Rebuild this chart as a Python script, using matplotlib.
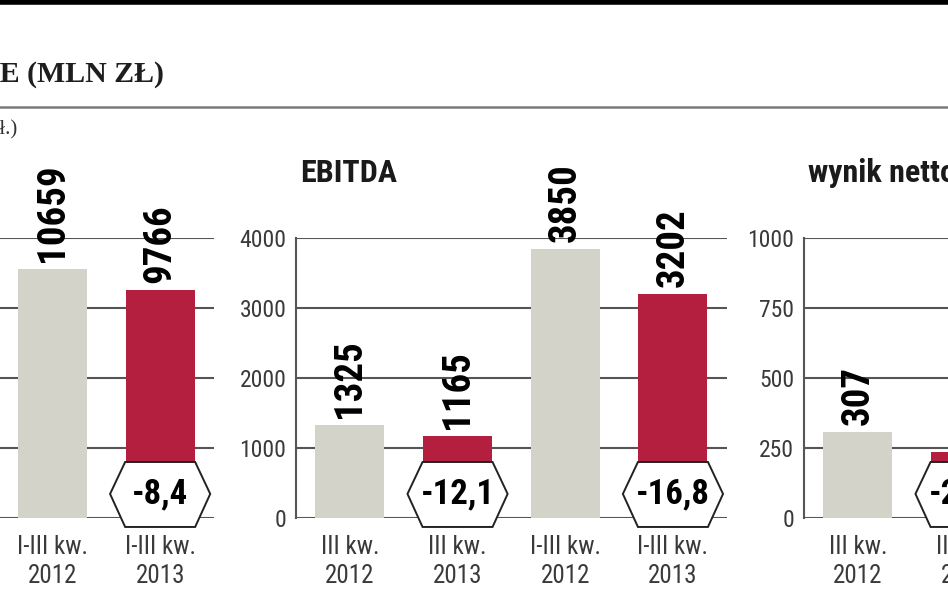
import matplotlib
matplotlib.use("Agg")
import matplotlib.pyplot as plt
from matplotlib import font_manager as fm
from matplotlib.patches import Polygon
from matplotlib.transforms import blended_transform_factory, offset_copy

# --- dane ---
cats_sales = ["I-III kw.\n2012", "I-III kw.\n2013"]
sales = [10659, 9766]
sales_change = [None, "-8,4"]

cats_ebitda = ["III kw.\n2012", "III kw.\n2013", "I-III kw.\n2012", "I-III kw.\n2013"]
ebitda = [1325, 1165, 3850, 3202]
ebitda_change = [None, "-12,1", None, "-16,8"]

cats_net = ["III kw.\n2012", "III kw.\n2013"]
net = [307, 236]
net_change = [None, "-23,1"]

GREY = "#d3d3ca"
RED = "#b41f3f"
GRID = "#555555"
TXT = "#3a3a3a"

# wybór fontu wąskiego, jeśli jest
names = {f.name for f in fm.fontManager.ttflist}
cond_stretch = "normal"
if "Liberation Sans Narrow" in names:
    COND = "Liberation Sans Narrow"
elif "Roboto Condensed" in names:
    COND = "Roboto Condensed"
else:
    COND = "DejaVu Sans"
    if any(f.name == "DejaVu Sans" and f.stretch == "condensed" for f in fm.fontManager.ttflist):
        cond_stretch = "condensed"

W, H = 948, 593
fig = plt.figure(figsize=(W / 100, H / 100), dpi=100)

# linie ozdobne u góry
fig.add_artist(plt.Line2D([0, 1], [1 - 2 / H, 1 - 2 / H], color="black", lw=4, transform=fig.transFigure))
fig.add_artist(plt.Line2D([0, 1], [1 - 107 / H, 1 - 107 / H], color="#7a7a7a", lw=1.8, transform=fig.transFigure))

fig.text(164 / W, 1 - 74 / H, "WYNIKI FINANSOWE (MLN ZŁ)", ha="right", va="center",
         family="Liberation Serif", fontweight="bold", fontsize=21.5, color="#1e1e1e")
fig.text(17 / W, 1 - 130 / H, "w mln zł.)", ha="right", va="center",
         family="Liberation Serif", fontsize=15, color="#333333")

unit = 107.7
base_y = 518
top_y = 238


def panel(left_px, ncat, cats, vals, changes, ymax, ticks, first, title=None, show_axis=True):
    ax = fig.add_axes([left_px / W, (H - base_y) / H, ncat * unit / W, (base_y - top_y) / H])
    ax.set_xlim(-0.5, ncat - 0.5)
    ax.set_ylim(0, ymax)
    xs = list(range(first, first + len(vals)))
    colors = [GREY if i % 2 == 0 else RED for i in range(len(vals))]
    ax.bar(xs, vals, width=0.64, color=colors, zorder=2)
    for s in ax.spines.values():
        s.set_visible(False)
    if show_axis:
        ax.spines["left"].set_visible(True)
        ax.spines["left"].set_color(GRID)
        ax.spines["left"].set_linewidth(1.5)
    ax.set_yticks(ticks)
    ax.yaxis.grid(True, color=GRID, lw=1.5, zorder=1)
    ax.set_axisbelow(True)
    ax.tick_params(axis="y", length=0, pad=7, labelsize=17, labelcolor=TXT)
    for lab in ax.get_yticklabels():
        lab.set_family(COND)
        lab.set_stretch(cond_stretch)
    if not show_axis:
        ax.set_yticklabels([])
    ax.set_xticks(xs)
    ax.set_xticklabels(cats, family=COND, stretch=cond_stretch, fontsize=18,
                       color=TXT, linespacing=1.3)
    ax.tick_params(axis="x", length=0, pad=12)

    tr = blended_transform_factory(ax.transData, ax.transAxes)
    for x, v, ch in zip(xs, vals, changes):
        ax.text(x, v, f"{v}", rotation=90, ha="center", va="bottom",
                family=COND, stretch=cond_stretch, fontweight="bold", fontsize=28,
                color="black", transform=offset_copy(ax.transData, fig=fig, y=7, units="dots"),
                clip_on=False)
        if ch:
            hx = [x - 0.465, x - 0.325, x + 0.325, x + 0.465, x + 0.325, x - 0.325]
            hy = [0.086, 0.2, 0.2, 0.086, -0.032, -0.032]
            ax.add_patch(Polygon(list(zip(hx, hy)), closed=True, transform=tr,
                                 facecolor="white", edgecolor="#222222", lw=1.4,
                                 zorder=4, clip_on=False))
            ax.text(x, 0.086, ch, transform=tr, ha="center", va="center",
                    family=COND, stretch=cond_stretch, fontweight="bold",
                    fontsize=25, color="black", zorder=5, clip_on=False)
    if title:
        fig.text((left_px + 4) / W, 1 - 173 / H, title, ha="left", va="center",
                 family=COND, stretch=cond_stretch, fontweight="bold", fontsize=23,
                 color="#1a1a1a")
    return ax


panel(214 - 4 * unit, 4, cats_sales, sales, sales_change, 12000,
      [0, 3000, 6000, 9000, 12000], 2, show_axis=False)
panel(296, 4, cats_ebitda, ebitda, ebitda_change, 4000,
      [0, 1000, 2000, 3000, 4000], 0, title="EBITDA")
panel(804, 4, cats_net, net, net_change, 1000,
      [0, 250, 500, 750, 1000], 0, title="wynik netto")

fig.savefig("out.png", dpi=100)
